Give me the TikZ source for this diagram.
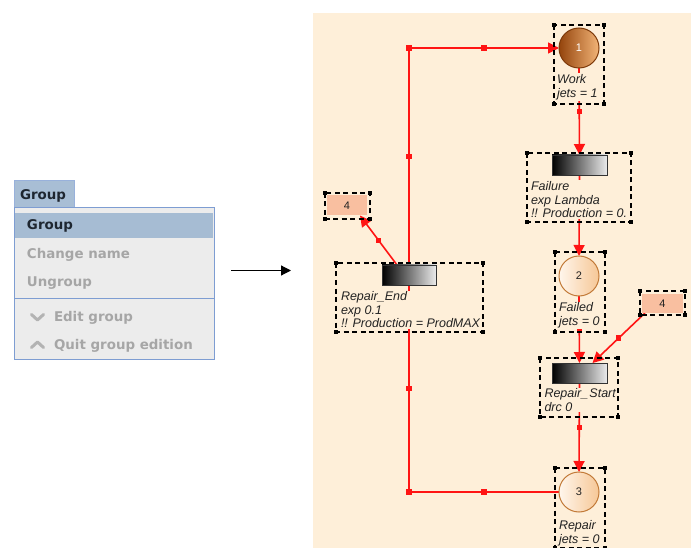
\documentclass[tikz,border=0pt]{standalone}
\usepackage{fontspec}
\setmainfont{Liberation Sans}
\newfontfamily\menufont{DejaVu Sans}
\usetikzlibrary{arrows.meta,calc}
\pgfdeclarelayer{panel}
\pgfdeclarelayer{arcs}
\pgfsetlayers{panel,arcs,main}

\definecolor{panelbg}{HTML}{FEEFD9}
\definecolor{arcred}{HTML}{FF1414}
\definecolor{tabfill}{HTML}{A8BED5}
\definecolor{hlfill}{HTML}{A6BCD3}
\definecolor{menuline}{HTML}{7E9DD2}
\definecolor{menufill}{HTML}{ECECEC}
\definecolor{menugray}{HTML}{A6A6A6}
\definecolor{menudark}{HTML}{1E2630}
\definecolor{workdark}{HTML}{94440C}
\definecolor{worklight}{HTML}{F2B477}
\definecolor{placedge}{HTML}{C27A38}
\definecolor{placelight}{HTML}{FFF6EC}
\definecolor{placedeep}{HTML}{F6C796}
\definecolor{parfill}{HTML}{F9BFA0}
\definecolor{labeltext}{HTML}{222222}

% small square handle on an arc
\newcommand\arcknot[1]{\fill[arcred] #1 +(-2.6,-2.6) rectangle +(2.6,2.6);}
% dashed selection frame with corner handles
\newcommand\selframe[4]{%
  \draw[selbox] (#1,#2) rectangle (#3,#4);
  \foreach \cx/\cy in {#1/#2,#3/#2,#1/#4,#3/#4}
    \fill (\cx,\cy) +(-2.2,-2.2) rectangle +(2.2,2.2);}

\begin{document}
\begin{tikzpicture}[x=1pt,y=-1pt,
  every node/.style={inner sep=0pt, outer sep=0pt},
  selbox/.style={draw=black, line width=1.1pt, dash pattern=on 5pt off 3.5pt},
  arc/.style={draw=arcred, line width=1.6pt, -{Triangle[length=11pt,width=11pt]}},
  arcline/.style={draw=arcred, line width=1.6pt},
  place/.style={circle, minimum size=40pt, line width=1pt, font=\fontsize{11}{11}\selectfont},
  darkplace/.style={place, draw=workdark!85!black, left color=workdark, right color=worklight, text=white},
  lightplace/.style={place, draw=placedge, left color=placelight, right color=placedeep, text=labeltext},
  trans/.style={rectangle, minimum width=55pt, minimum height=20pt, draw=black!80, line width=0.8pt, left color=black, right color=white!92!black},
  lbl/.style={anchor=north west, align=left, fill=panelbg, inner sep=1pt, text=labeltext, font=\fontsize{12.5}{13.5}\itshape\selectfont},
  param/.style={rectangle, fill=parfill, minimum width=40pt, minimum height=20pt, font=\fontsize{11}{11}\selectfont, text=labeltext},
  menuitem/.style={anchor=base west, font=\menufont\bfseries\fontsize{13.4}{13.4}\selectfont, text=menugray},
]
\useasboundingbox (0,0) rectangle (691,548);
\begin{pgfonlayer}{panel}
  \fill[white] (0,0) rectangle (691,548);
  \fill[panelbg] (313,13) rectangle (691,548);
\end{pgfonlayer}

% ---------------- context menu ----------------
\filldraw[fill=tabfill, draw=menuline!80!white, line width=0.8pt] (14,208) -- (14,180) -- (74,180) -- (74,208);
\node[menuitem, text=menudark] (tabGroup) at (20,200) {Group};
\filldraw[fill=menufill, draw=menuline, line width=1pt] (14,208) rectangle (214,359);
\fill[hlfill] (15,213) rectangle (213,238);
\draw[menuline, line width=1pt] (14,298) -- (214,298);
\node[menuitem, text=menudark] (mGroup) at (27,230) {Group};
\node[menuitem] (mRename) at (27,258.3) {Change name};
\node[menuitem] (mUngroup) at (27,286.7) {Ungroup};
\node[menuitem] (mEdit) at (54,321.7) {Edit group};
\node[menuitem] (mQuit) at (54,349.3) {Quit group edition};
\draw[menugray!85!white, line width=3pt, line cap=round, line join=round] (31.5,314.5) -- (37.5,320) -- (43.5,314.5);
\draw[menugray!85!white, line width=3pt, line cap=round, line join=round] (31.5,347.5) -- (37.5,342) -- (43.5,347.5);

% ---------------- arrow ----------------
\coordinate (arrowtail) at (231,270.5);
\coordinate (arrowhead) at (291,270.5);
\draw[line width=1.2pt, -{Triangle[length=10pt,width=10pt]}] (arrowtail) -- (arrowhead);

% ---------------- Petri net panel ----------------
% places
\node[darkplace]  (pW) at (579,48)  {1};
\node[lightplace] (pF) at (579,276) {2};
\node[lightplace] (pR) at (579,492) {3};

% transitions
\node[trans] (tF)  at (579.5,165) {};
\node[trans, minimum width=54pt] (tRE) at (409,275) {};
\node[trans] (tRS) at (579.5,373) {};

% parameter boxes
\node[param] (parL) at (347,205.5) {4};
\node[param, minimum width=41pt, minimum height=19pt] (parR) at (662.5,303.5) {4};

% labels
\node[lbl] (lW)   at (556,73.5)  {Work\\jets = 1};
\node[lbl] (lF)   at (558,301.5) {Failed\\jets = 0};
\node[lbl] (lR)   at (558,519.5) {Repair\\jets = 0};
\node[lbl] (lFa)  at (530,180.5) {Failure\\exp Lambda\\!! Production = 0.};
\node[lbl] (lRE)  at (340,290.5) {Repair\_End\\exp 0.1\\!! Production = ProdMAX};
\node[lbl] (lRS)  at (543.5,387.5) {Repair\_\hspace{1.2pt}Start\\drc 0};

% selection frames
\selframe{554}{25}{604}{104}
\selframe{527}{153}{631}{222}
\selframe{555}{252}{605}{332}
\selframe{540}{358}{618}{417}
\selframe{555}{468}{605}{548}
\selframe{336}{263}{483}{332}
\selframe{325}{193}{370}{219}
\selframe{640}{291}{685}{315}

% arcs
\begin{pgfonlayer}{arcs}
  \coordinate (cTop) at (tRE.north |- pW.west);
  \coordinate (cBot) at (tRE.south |- pR.west);
  \draw[arc] (tRE.north) -- (cTop) -- (pW.west);
  \arcknot{(cTop)}
  \arcknot{($(cTop)!0.5!(pW.west)$)}
  \arcknot{($(tRE.north)!0.5!(cTop)$)}

  \draw[arcline] (pR.west) -- (cBot) -- (tRE.south);
  \arcknot{(cBot)}
  \arcknot{($(cBot)!0.5!(pR.west)$)}
  \arcknot{($(tRE.south)!0.5!(cBot)$)}

  \draw[arc] (pW.south) -- (tF.north);
  \arcknot{($(pW.south)!0.5!(tF.north)$)}
  \draw[arc] (tF.south) -- (pF.north);
  \draw[arc] (pF.south) -- (tRS.north);
  \arcknot{($(pF.south)!0.5!(tRS.north)$)}
  \draw[arc] (tRS.south) -- (pR.north);
  \arcknot{($(tRS.south)!0.5!(pR.north)$)}

  \coordinate (reOut) at ($(tRE.north)+(-12,0)$);
  \coordinate (parLIn) at ($(parL.south)!0.65!(parL.south east)$);
  \draw[arc] (reOut) -- (parLIn);
  \arcknot{($(reOut)!0.5!(parLIn)$)}

  \coordinate (parROut) at ($(parR.south west)+(3,0)$);
  \coordinate (rsIn) at ($(tRS.north)+(13,0)$);
  \draw[arc] (parROut) -- (rsIn);
  \arcknot{($(parROut)!0.5!(rsIn)$)}
\end{pgfonlayer}
\end{tikzpicture}
\end{document}
